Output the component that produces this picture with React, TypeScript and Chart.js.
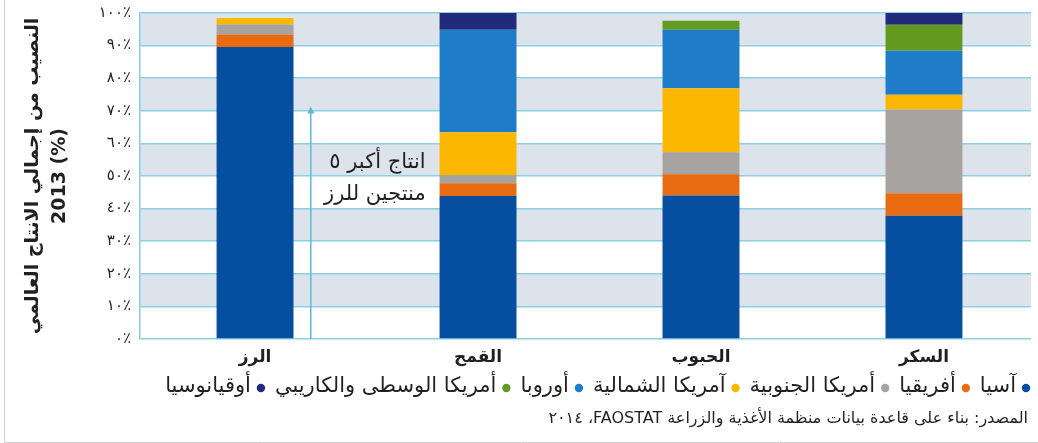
import React, { useEffect, useRef } from 'react';
import { Chart, registerables } from 'chart.js';

Chart.register(...registerables);

// ---- Data ----
const categories = ['الرز', 'القمح', 'الحبوب', 'السكر'];
const regionNames = [
  'آسيا',
  'أفريقيا',
  'أمريكا الجنوبية',
  'آمريكا الشمالية',
  'أوروبا',
  'أمريكا الوسطى والكاريبي',
  'أوقيانوسيا',
];
const asia = [89.6, 43.9, 44.0, 37.8];
const africa = [3.8, 3.9, 6.5, 6.9];
const southAmerica = [3.1, 2.5, 6.8, 25.7];
const northAmerica = [2.0, 13.1, 19.6, 4.5];
const europe = [0, 31.5, 18.0, 13.5];
const centralAmerica = [0, 0, 2.7, 8.0];
const oceania = [0, 5.1, 0, 3.6];
const seriesValues = [asia, africa, southAmerica, northAmerica, europe, centralAmerica, oceania];
const seriesColors = ['#064e9f', '#e86b12', '#a6a3a1', '#fcb700', '#1f7cc8', '#629a20', '#222a7b'];

const yTickLabels = ['٠٪', '١٠٪', '٢٠٪', '٣٠٪', '٤٠٪', '٥٠٪', '٦٠٪', '٧٠٪', '٨٠٪', '٩٠٪', '١٠٠٪'];
const shadedBands = [[10, 20], [30, 40], [50, 60], [70, 80], [90, 100]];

const yTitleLines = ['النصيب من إجمالي الانتاج العالمي', '2013 (%)'];
const annotationLines = ['انتاج أكبر ٥', 'منتجين للرز'];
const annotationValues = [54, 44.2];
const arrowTopValue = 71.3;
const sourceText = 'المصدر: بناء على قاعدة بيانات منظمة الأغذية والزراعة FAOSTAT، ٢٠١٤';

const FONT = "'DejaVu Sans', sans-serif";
const TEXT = '#231f20';
const GRID = '#8dcfe4';

const decorPlugin = {
  id: 'decor',
  beforeDraw(chart: any) {
    const { ctx, chartArea, scales } = chart;
    const y = scales.y;
    ctx.save();
    ctx.fillStyle = '#dde3ea';
    shadedBands.forEach(([a, b]) => {
      const y1 = y.getPixelForValue(b);
      const y2 = y.getPixelForValue(a);
      ctx.fillRect(chartArea.left, y1, chartArea.right - chartArea.left, y2 - y1);
    });
    ctx.restore();
  },
  afterDraw(chart: any) {
    const { ctx, chartArea, scales } = chart;
    const x = scales.x;
    const y = scales.y;
    ctx.save();

    // arrow annotation
    const x0 = x.getPixelForValue(0);
    const x1 = x.getPixelForValue(1);
    const ax = x0 + 0.25 * (x1 - x0);
    const yBottom = y.getPixelForValue(0);
    const yTip = y.getPixelForValue(arrowTopValue);
    ctx.strokeStyle = '#5cb9da';
    ctx.fillStyle = '#5cb9da';
    ctx.lineWidth = 1.5;
    ctx.beginPath();
    ctx.moveTo(ax, yBottom);
    ctx.lineTo(ax, yTip + 5);
    ctx.stroke();
    ctx.beginPath();
    ctx.moveTo(ax, yTip);
    ctx.lineTo(ax - 3.5, yTip + 7);
    ctx.lineTo(ax + 3.5, yTip + 7);
    ctx.closePath();
    ctx.fill();

    // annotation text
    const tx = x0 + 0.765 * (x1 - x0);
    ctx.fillStyle = TEXT;
    ctx.font = `21px ${FONT}`;
    ctx.direction = 'rtl';
    ctx.textAlign = 'right';
    ctx.textBaseline = 'middle';
    annotationLines.forEach((t, i) => {
      ctx.fillText(t, tx, y.getPixelForValue(annotationValues[i]));
    });

    // y axis title
    const cy = (chartArea.top + chartArea.bottom) / 2;
    ctx.font = `bold 19px ${FONT}`;
    ctx.textAlign = 'center';
    ctx.direction = 'rtl';
    ctx.save();
    ctx.translate(33, cy);
    ctx.rotate(-Math.PI / 2);
    ctx.fillText(yTitleLines[0], 0, 0);
    ctx.restore();
    ctx.save();
    ctx.direction = 'ltr';
    ctx.translate(60, cy);
    ctx.rotate(-Math.PI / 2);
    ctx.fillText(yTitleLines[1], 0, 0);
    ctx.restore();

    // legend
    ctx.font = `21px ${FONT}`;
    ctx.direction = 'rtl';
    ctx.textAlign = 'right';
    ctx.textBaseline = 'middle';
    let lx = 1026;
    const ly = 388;
    chart.data.datasets.forEach((ds: any) => {
      ctx.fillStyle = ds.backgroundColor;
      ctx.beginPath();
      ctx.arc(lx, ly, 4.2, 0, Math.PI * 2);
      ctx.fill();
      ctx.fillStyle = TEXT;
      const tr = lx - 10;
      ctx.fillText(ds.label, tr, ly - 1);
      const w = ctx.measureText(ds.label).width;
      lx = tr - w - 14;
    });

    // source
    ctx.font = `16px ${FONT}`;
    ctx.fillStyle = TEXT;
    ctx.fillText(sourceText, 1028, 419);

    // frame lines
    ctx.strokeStyle = '#cfcfcf';
    ctx.lineWidth = 1;
    ctx.beginPath();
    ctx.moveTo(4.5, 0);
    ctx.lineTo(4.5, 442.5);
    ctx.lineTo(1038, 442.5);
    ctx.stroke();

    ctx.restore();
  },
};

export default function App() {
  const canvasRef = useRef<HTMLCanvasElement | null>(null);

  useEffect(() => {
    const canvas = canvasRef.current;
    if (!canvas) return;
    const chart = new Chart(canvas, {
      type: 'bar',
      data: {
        datasets: seriesValues.map((vals, i) => ({
          label: regionNames[i],
          data: vals.map((v, j) => ({ x: j, y: v })),
          backgroundColor: seriesColors[i],
          borderWidth: 0,
          categoryPercentage: 1,
          barPercentage: 0.345,
        })),
      },
      options: {
        responsive: false,
        animation: false,
        devicePixelRatio: 1,
        layout: { padding: { left: 0, right: 7, top: 13, bottom: 0 } },
        plugins: {
          legend: { display: false },
          tooltip: { enabled: false },
        },
        scales: {
          x: {
            type: 'linear',
            stacked: true,
            min: -0.516,
            max: 3.48,
            offset: false,
            grid: { display: false },
            border: { display: false },
            afterBuildTicks: (scale: any) => {
              scale.ticks = categories.map((_, i) => ({ value: i }));
            },
            ticks: {
              maxRotation: 0,
              autoSkip: false,
              padding: 0,
              color: TEXT,
              font: { family: FONT, size: 17, weight: 'bold' },
              callback: (v: any) => categories[Math.round(Number(v))] ?? '',
            },
            afterFit: (scale: any) => {
              scale.height = 104;
              scale.paddingLeft = 0;
              scale.paddingRight = 0;
            },
          },
          y: {
            stacked: true,
            min: 0,
            max: 100,
            ticks: {
              stepSize: 10,
              padding: 9,
              color: TEXT,
              font: { family: FONT, size: 15 },
              callback: (v: any) => yTickLabels[Math.round(Number(v) / 10)],
            },
            grid: { color: GRID, lineWidth: 1.6, drawTicks: false },
            border: { display: true, color: GRID, width: 1.6 },
            afterFit: (scale: any) => {
              scale.width = 140;
              scale.paddingTop = 0;
              scale.paddingBottom = 0;
            },
          },
        },
      },
      plugins: [decorPlugin],
    });
    return () => chart.destroy();
  }, []);

  return (
    <div style={{ position: 'absolute', left: 0, top: 0, width: 1038, height: 443, background: '#fff' }}>
      <canvas ref={canvasRef} width={1038} height={443} style={{ width: 1038, height: 443, display: 'block' }} />
    </div>
  );
}
